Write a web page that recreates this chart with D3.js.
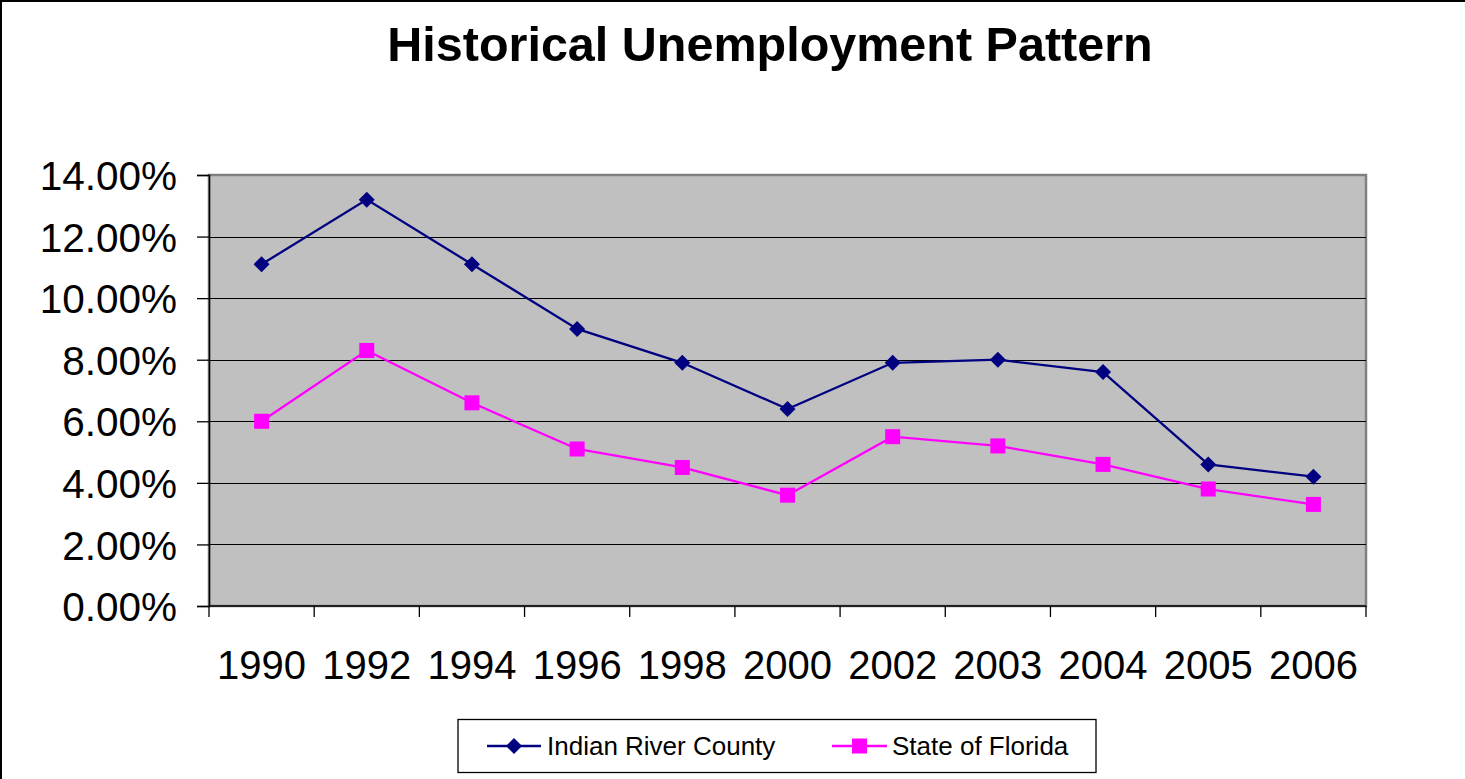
<!DOCTYPE html>
<html>
<head>
<meta charset="utf-8">
<script src="https://cdn.jsdelivr.net/npm/d3@7"></script>
<style>
  body { margin: 0; background: #fff; }
  text { font-family: "Liberation Sans", Arial, sans-serif; }
</style>
</head>
<body>
<div id="chart"></div>
<script>
var svgWidth = 1465;
var svgHeight = 779;

// data
var years = ["1990", "1992", "1994", "1996", "1998", "2000", "2002", "2003", "2004", "2005", "2006"];
var indianRiver = [11.1, 13.2, 11.1, 9.0, 7.9, 6.4, 7.9, 8.0, 7.6, 4.6, 4.2];
var florida = [6.0, 8.3, 6.6, 5.1, 4.5, 3.6, 5.5, 5.2, 4.6, 3.8, 3.3];
var yTicks = [0, 2, 4, 6, 8, 10, 12, 14];

var plot = { left: 209, right: 1366, top: 175, bottom: 606 };

var svg = d3
  .select("#chart")
  .append("svg")
  .attr("width", svgWidth)
  .attr("height", svgHeight);

// outer chart border (runs off the right / bottom of the picture)
svg.append("rect")
  .attr("x", 1)
  .attr("y", 1)
  .attr("width", svgWidth + 10)
  .attr("height", svgHeight + 10)
  .attr("fill", "#fff")
  .attr("stroke", "#000")
  .attr("stroke-width", 2);

// title
svg.append("text")
  .attr("x", 770)
  .attr("y", 61)
  .attr("text-anchor", "middle")
  .attr("font-size", 48.5)
  .attr("font-weight", "bold")
  .text("Historical Unemployment Pattern");

var xScale = d3.scaleBand()
  .domain(years)
  .range([plot.left, plot.right]);

var yScale = d3.scaleLinear()
  .domain([0, 14])
  .range([plot.bottom, plot.top]);

// plot background
svg.append("rect")
  .attr("x", plot.left)
  .attr("y", plot.top)
  .attr("width", plot.right - plot.left)
  .attr("height", plot.bottom - plot.top)
  .attr("fill", "#c0c0c0")
  .attr("stroke", "#808080")
  .attr("stroke-width", 2.5);

// gridlines
svg.append("g")
  .selectAll("line")
  .data(yTicks.slice(1, -1))
  .enter()
  .append("line")
  .attr("x1", plot.left)
  .attr("x2", plot.right)
  .attr("y1", function(d) { return Math.round(yScale(d)) + 0.5; })
  .attr("y2", function(d) { return Math.round(yScale(d)) + 0.5; })
  .attr("stroke", "#000")
  .attr("stroke-width", 1);

// y axis
var yAxis = d3.axisLeft(yScale)
  .tickValues(yTicks)
  .tickSize(12)
  .tickPadding(20)
  .tickFormat(function(d) { return d.toFixed(2) + "%"; });

var yG = svg.append("g")
  .attr("transform", "translate(" + plot.left + ",0)")
  .call(yAxis);
yG.selectAll("line").attr("stroke", "#000").attr("stroke-width", 1.3);
yG.select(".domain").attr("stroke", "#000").attr("stroke-width", 1.5);
yG.selectAll("text")
  .attr("font-size", 40.5)
  .attr("fill", "#000")
  .attr("font-family", "'Liberation Sans', Arial, sans-serif")
  .attr("dy", "0.36em");

// x axis: ticks at category boundaries
var xG = svg.append("g")
  .attr("transform", "translate(0," + plot.bottom + ")");
xG.append("line")
  .attr("x1", plot.left)
  .attr("x2", plot.right)
  .attr("stroke", "#000")
  .attr("stroke-width", 1.5);
xG.selectAll(".xtick")
  .data(years.concat(["end"]))
  .enter()
  .append("line")
  .attr("class", "xtick")
  .attr("x1", function(d, i) { return i < years.length ? xScale(d) : plot.right; })
  .attr("x2", function(d, i) { return i < years.length ? xScale(d) : plot.right; })
  .attr("y1", 0)
  .attr("y2", 11)
  .attr("stroke", "#000")
  .attr("stroke-width", 1.3);
xG.selectAll(".xlabel")
  .data(years)
  .enter()
  .append("text")
  .attr("class", "xlabel")
  .attr("x", function(d) { return xScale(d) + xScale.bandwidth() / 2; })
  .attr("y", 73)
  .attr("text-anchor", "middle")
  .attr("font-size", 40)
  .text(function(d) { return d; });

var cx = function(d, i) { return xScale(years[i]) + xScale.bandwidth() / 2; };

var line = d3.line()
  .x(cx)
  .y(function(d) { return yScale(d); });

// series
var series = [
  { name: "Indian River County", values: indianRiver, color: "#000080", shape: "diamond" },
  { name: "State of Florida", values: florida, color: "#ff00ff", shape: "square" }
];

function drawMarker(g, shape, color, x, y) {
  if (shape === "diamond") {
    g.append("path")
      .attr("d", "M" + x + "," + (y - 8) + "L" + (x + 8) + "," + y + "L" + x + "," + (y + 8) + "L" + (x - 8) + "," + y + "Z")
      .attr("fill", color);
  } else {
    g.append("rect")
      .attr("x", x - 7.5)
      .attr("y", y - 7.5)
      .attr("width", 15)
      .attr("height", 15)
      .attr("fill", color);
  }
}

series.forEach(function(s) {
  var g = svg.append("g");
  g.append("path")
    .datum(s.values)
    .attr("d", line)
    .attr("fill", "none")
    .attr("stroke", s.color)
    .attr("stroke-width", 2.3);
  s.values.forEach(function(v, i) {
    drawMarker(g, s.shape, s.color, cx(v, i), yScale(v));
  });
});

// legend
var legend = svg.append("g");
legend.append("rect")
  .attr("x", 458)
  .attr("y", 719.5)
  .attr("width", 638)
  .attr("height", 53)
  .attr("fill", "#fff")
  .attr("stroke", "#000")
  .attr("stroke-width", 1.3);

var legendItems = [
  { x0: 487, x1: 541, tx: 547 },
  { x0: 832, x1: 887, tx: 892 }
];
series.forEach(function(s, i) {
  var it = legendItems[i];
  var ly = 746;
  legend.append("line")
    .attr("x1", it.x0)
    .attr("x2", it.x1)
    .attr("y1", ly)
    .attr("y2", ly)
    .attr("stroke", s.color)
    .attr("stroke-width", 2.3);
  drawMarker(legend, s.shape, s.color, (it.x0 + it.x1) / 2, ly);
  legend.append("text")
    .attr("x", it.tx)
    .attr("y", ly + 9)
    .attr("font-size", 26)
    .text(s.name);
});
</script>
</body>
</html>
